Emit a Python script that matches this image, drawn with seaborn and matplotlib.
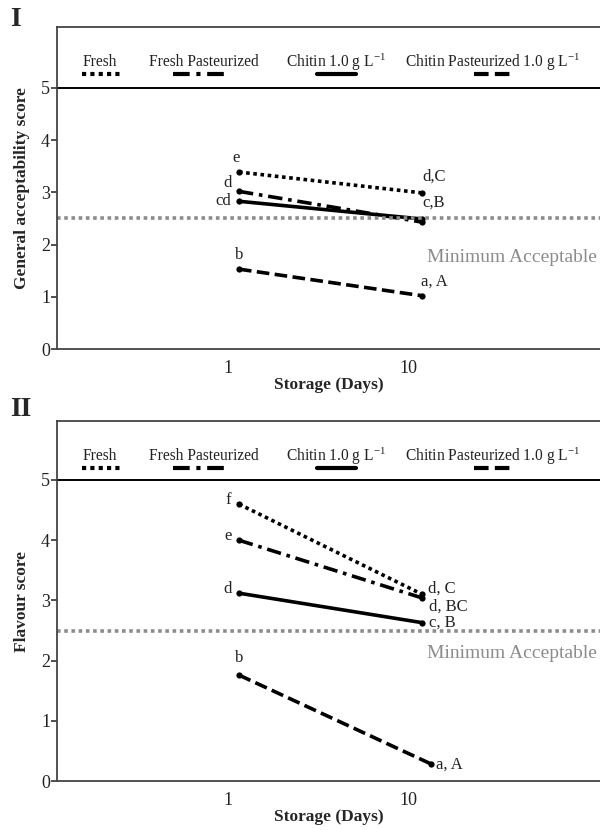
import numpy as np
import pandas as pd
import matplotlib
matplotlib.use("Agg")
import matplotlib.pyplot as plt
import seaborn as sns
from matplotlib.lines import Line2D

# ---------------- data ----------------
series_names = ["Fresh", "Fresh Pasteurized", "Chitin", "Chitin Pasteurized"]
legend_labels = ["Fresh", "Fresh Pasteurized",
                 r"Chitin 1.0 g L$^{\mathregular{-1}}$",
                 r"Chitin Pasteurized 1.0 g L$^{\mathregular{-1}}$"]

days = [1.15, 12.0]
days_II_chitin_past = [1.15, 13.5]

# Panel I: general acceptability
ga_fresh = [3.39, 2.99]
ga_fresh_past = [3.02, 2.43]
ga_chitin = [2.83, 2.49]
ga_chitin_past = [1.53, 1.02]
ga_letters_start = ["e", "d", "cd", "b"]
ga_letters_end = ["d,C", "c,B", "", "a, A"]

# Panel II: flavour
fl_fresh = [4.60, 3.10]
fl_fresh_past = [4.00, 3.04]
fl_chitin = [3.12, 2.63]
fl_chitin_past = [1.76, 0.28]
fl_letters_start = ["f", "e", "d", "b"]
fl_letters_end = ["d, C", "d, BC", "c, B", "a, A"]

min_acceptable = 2.5
xticks = [1, 10]
yticks = [0, 1, 2, 3, 4, 5]

# ---------------- style ----------------
sns.set_style("white")
plt.rcParams["font.family"] = ["Liberation Serif", "DejaVu Serif"]
plt.rcParams["mathtext.fontset"] = "custom"
plt.rcParams["mathtext.rm"] = "Liberation Serif"
plt.rcParams["mathtext.it"] = "Liberation Serif:italic"
plt.rcParams["mathtext.bf"] = "Liberation Serif:bold"

dash_map = {
    "Fresh": (1.0, 1.0),
    "Fresh Pasteurized": (4.0, 1.6, 1.0, 1.6),
    "Chitin": "",
    "Chitin Pasteurized": (3.5, 1.5),
}
marker_map = {k: "o" for k in series_names}

W, H = 600, 830
fig = plt.figure(figsize=(6.0, 8.3), dpi=100)

def make_axes(top_px, bot_px):
    return fig.add_axes([57 / W, 1 - bot_px / H, 1 - 57 / W, (bot_px - top_px) / H])

axI = make_axes(27, 349)
axII = make_axes(421, 781)

def build_df(vals, xs_list):
    rows = []
    for name, v, xs in zip(series_names, vals, xs_list):
        for d, s in zip(xs, v):
            rows.append({"day": d, "score": s, "series": name})
    return pd.DataFrame(rows)

dfI = build_df([ga_fresh, ga_fresh_past, ga_chitin, ga_chitin_past], [days] * 4)
dfII = build_df([fl_fresh, fl_fresh_past, fl_chitin, fl_chitin_past],
                [days, days, days, days_II_chitin_past])

def draw_panel(ax, df, ylim_top, top_px, bot_px, ylabel, letters_start, letters_end,
               start_offsets, end_offsets, minacc_text_y, roman, roman_y):
    sns.lineplot(data=df, x="day", y="score", hue="series", style="series",
                 palette=["black"] * 4, dashes=dash_map, markers=marker_map,
                 markersize=4.5, markeredgewidth=0, linewidth=2.6,
                 sort=False, legend=False, ax=ax, hue_order=series_names,
                 style_order=series_names)
    ax.set_xscale("log")
    left = 10 ** ((57 - 228) / 180)
    right = 10 ** ((600 - 228) / 180)
    ax.set_xlim(left, right)
    ax.set_ylim(0, ylim_top)
    ax.set_xticks(xticks)
    ax.set_xticklabels([str(t) for t in xticks])
    ax.xaxis.set_minor_locator(matplotlib.ticker.NullLocator())
    ax.set_yticks(yticks)
    ax.set_yticklabels([str(t) for t in yticks])
    ax.tick_params(axis="y", which="major", length=4, width=1.2, direction="out",
                   labelsize=13, pad=1, colors="#333333", left=True)
    ax.tick_params(axis="x", which="major", length=0, labelsize=13, pad=8,
                   colors="#333333")
    for lab in ax.get_xticklabels() + ax.get_yticklabels():
        lab.set_color("#222222")
    for side in ["left", "top", "bottom"]:
        ax.spines[side].set_visible(True)
        ax.spines[side].set_color("#444444")
        ax.spines[side].set_linewidth(1.3)
    ax.spines["right"].set_visible(False)
    ax.axhline(5, color="black", linewidth=1.4)
    ax.axhline(min_acceptable, color="#8c8c8c", linewidth=2.6, linestyle=(0, (1, 1)))
    ax.text(0.995, minacc_text_y, "Minimum Acceptable", transform=ax.get_yaxis_transform(),
            ha="right", va="center", fontsize=14, color="#8c8c8c")
    ax.set_xlabel("Storage (Days)", fontsize=12.5, fontweight="bold", labelpad=0)
    ax.set_ylabel(ylabel, fontsize=12.5, fontweight="bold", labelpad=8)

    # letter annotations
    for i, name in enumerate(series_names):
        sub = df[df["series"] == name].reset_index(drop=True)
        if letters_start[i]:
            ax.annotate(letters_start[i], (sub.loc[0, "day"], sub.loc[0, "score"]),
                        xytext=start_offsets[i], textcoords="offset points",
                        ha="center", va="center", fontsize=12, color="#222222")
        if letters_end[i]:
            ax.annotate(letters_end[i], (sub.loc[1, "day"], sub.loc[1, "score"]),
                        xytext=end_offsets[i], textcoords="offset points",
                        ha="left", va="center", fontsize=12, color="#222222")

    # custom legend (text above, sample line below)
    hpx = bot_px - top_px
    def fx(px):
        return (px - 57) / (W - 57)
    def fy(py):
        return (bot_px - py) / hpx
    text_centers = [100, 204, 336, 493]
    sample_ranges = [(82, 122), (173, 224), (317, 356), (474, 513)]
    text_y = top_px + 35
    sample_y = top_px + 47
    for lab, cx, (x0, x1), name in zip(legend_labels, text_centers, sample_ranges, series_names):
        ax.text(fx(cx), fy(text_y), lab, transform=ax.transAxes, ha="center",
                va="center", fontsize=11.2, color="#222222")
        dsh = dash_map[name]
        ls = "-" if dsh == "" else (0, dsh)
        ax.add_line(Line2D([fx(x0), fx(x1)], [fy(sample_y), fy(sample_y)],
                           transform=ax.transAxes, color="black", linewidth=3,
                           linestyle=ls))
    fig.text(10 / W, 1 - roman_y / H, roman, fontsize=20, fontweight="bold",
             ha="left", va="center")

draw_panel(axI, dfI, (349 - 27) / 52.2, 27, 349, "General acceptability score",
           ga_letters_start, ga_letters_end,
           start_offsets=[(-2, 10), (-8, 6), (-11, 0), (0, 10)],
           end_offsets=[(0, 12), (0, 14), (0, 0), (-1, 10)],
           minacc_text_y=1.75, roman="I", roman_y=20)
draw_panel(axII, dfII, (781 - 421) / 60.2, 421, 781, "Flavour score",
           fl_letters_start, fl_letters_end,
           start_offsets=[(-8, 3), (-8, 3), (-8, 3), (0, 12)],
           end_offsets=[(4, 4), (5, -6), (5, 0), (3, 0)],
           minacc_text_y=2.12, roman="II", roman_y=410)

fig.savefig("out.png", dpi=100)
